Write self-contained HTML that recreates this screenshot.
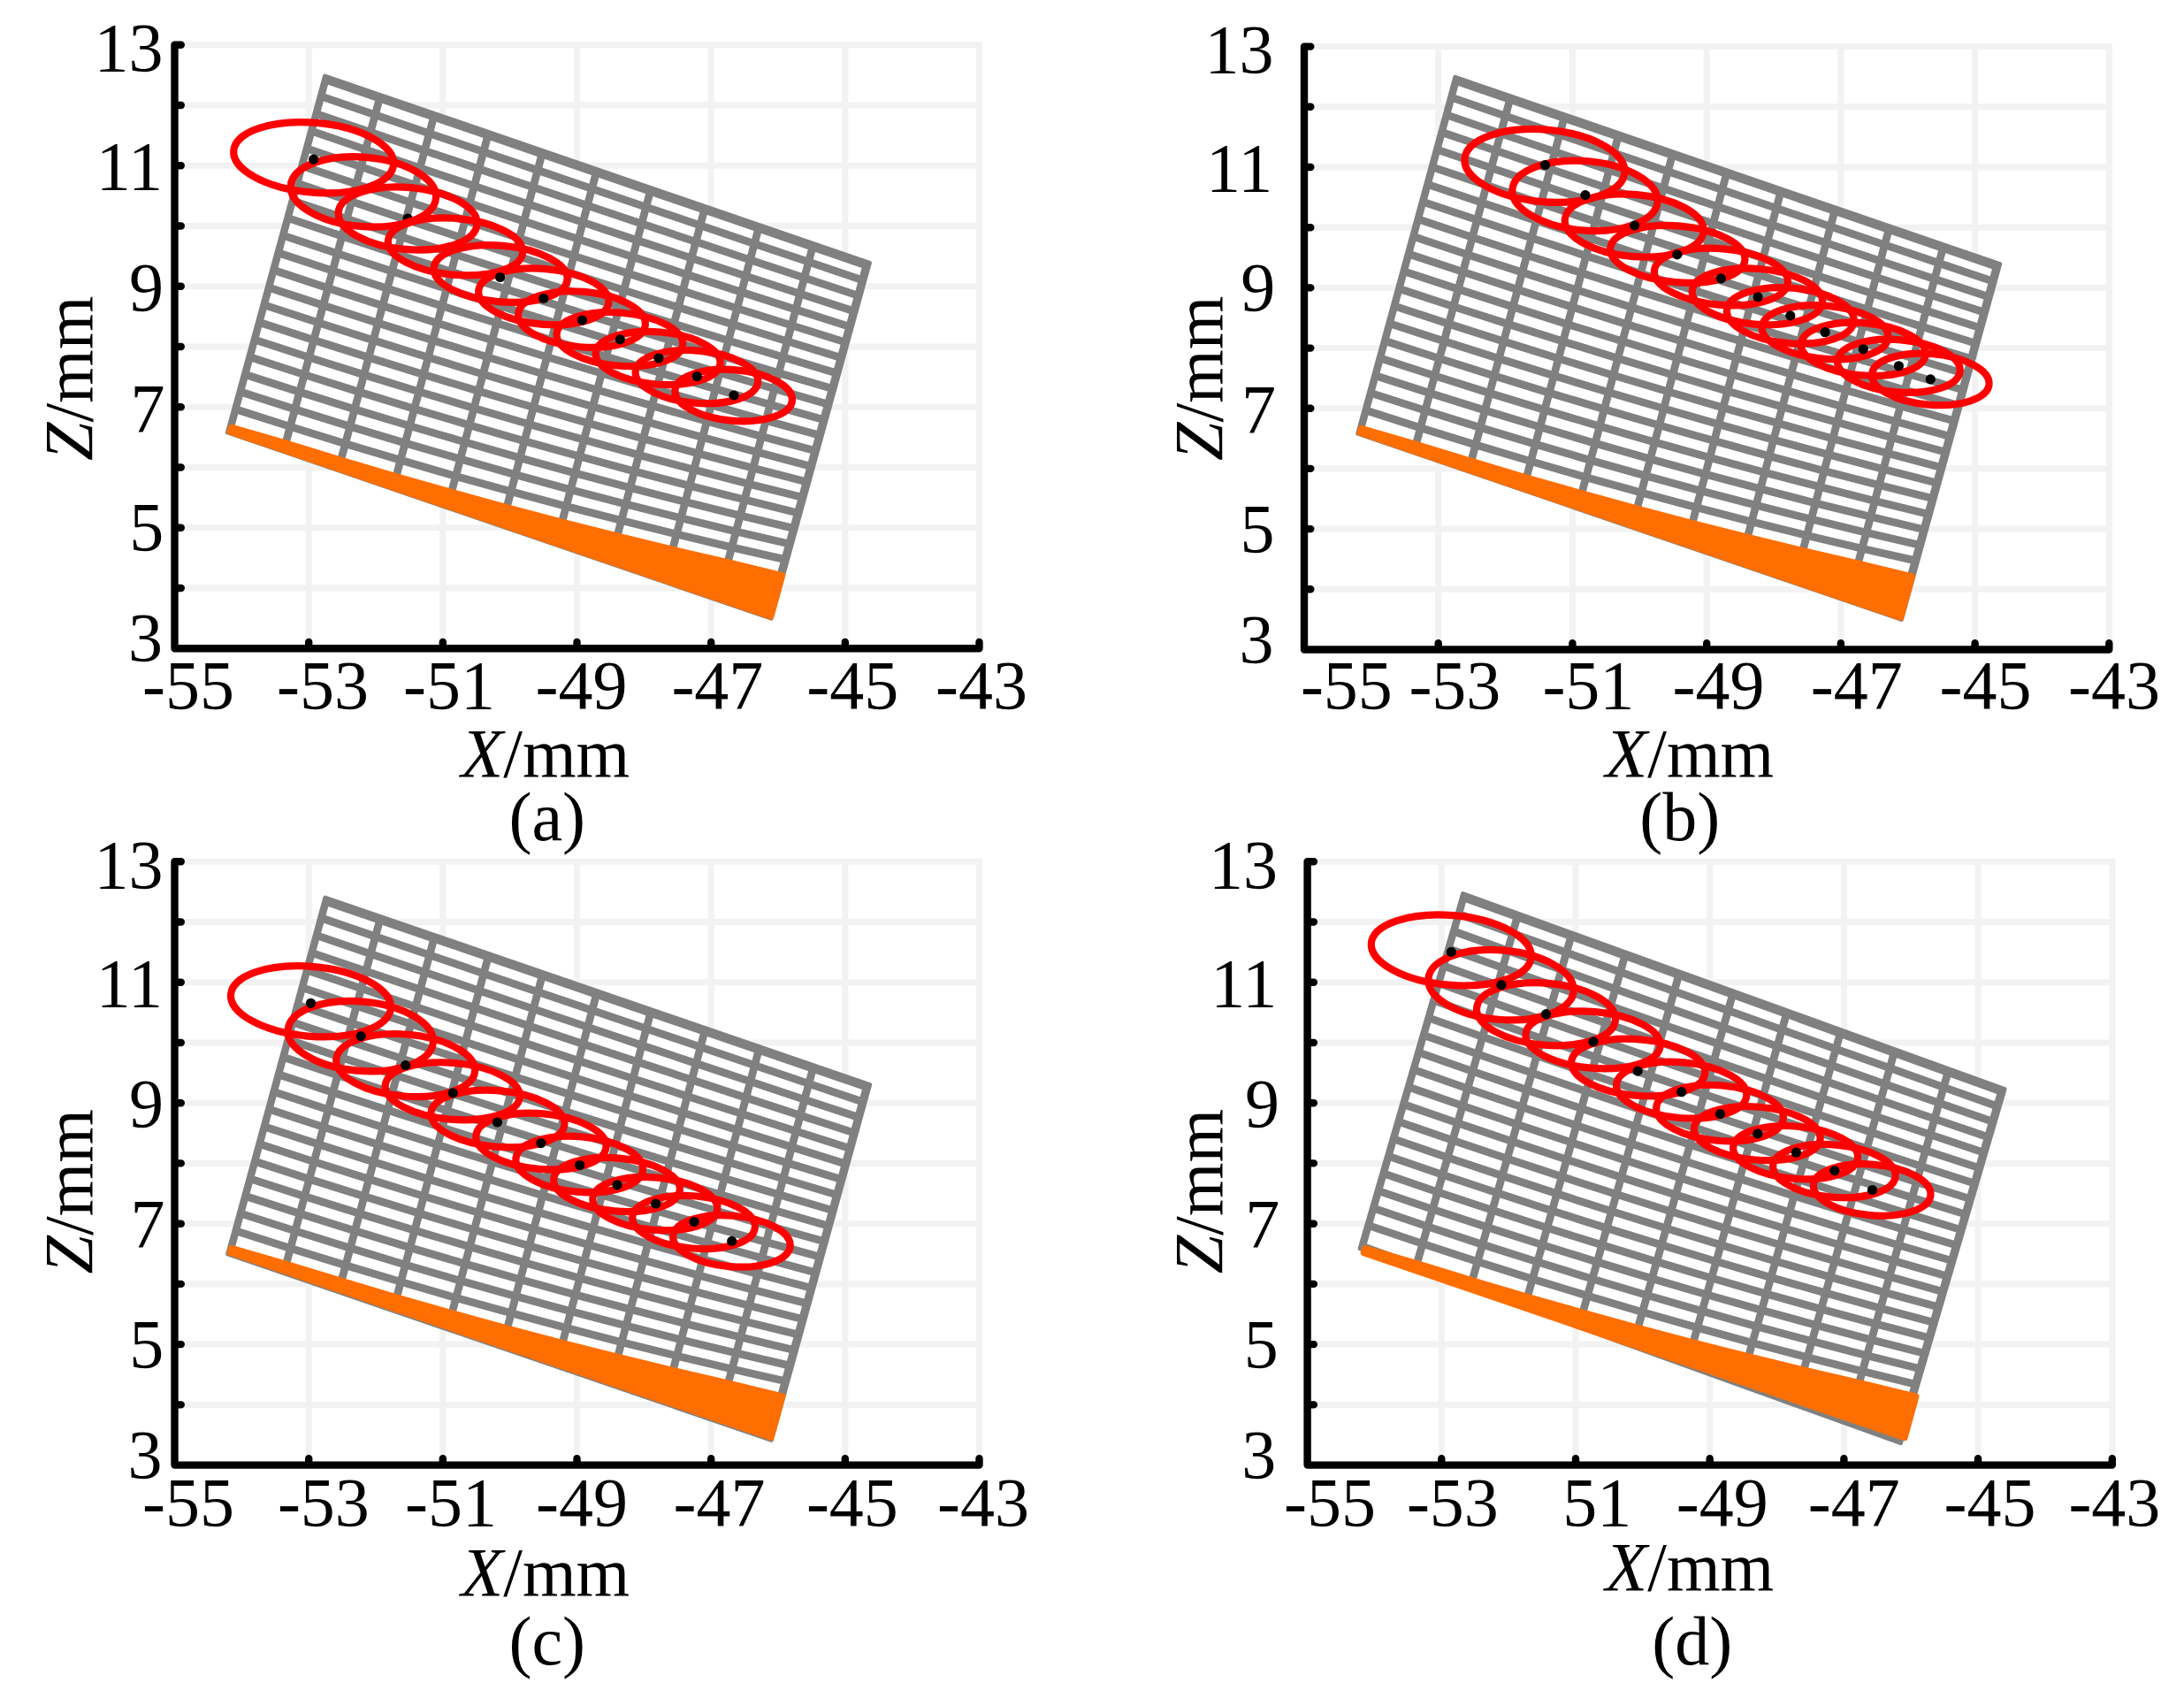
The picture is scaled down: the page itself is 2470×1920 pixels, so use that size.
<!DOCTYPE html>
<html lang="en">
<head>
<meta charset="utf-8">
<title>Figure</title>
<style>
circle{fill:#000;stroke:none;}
html,body{margin:0;padding:0;background:#fff;}
body{width:2470px;height:1920px;overflow:hidden;}
svg{display:block;}
text{font-family:"Liberation Serif","Times New Roman",serif;font-size:78px;fill:#000;}
</style>
</head>
<body>
<svg xmlns="http://www.w3.org/2000/svg" width="2470" height="1920" viewBox="0 0 2470 1920">
<rect width="2470" height="1920" fill="#fff"/>
<g>
<path d="M197.5 50.7H1111M197.5 119H1111M197.5 187.2H1111M197.5 255.5H1111M197.5 323.7H1111M197.5 392H1111M197.5 460.3H1111M197.5 528.5H1111M197.5 596.8H1111M197.5 665H1111M349.2 47.2V733.3M500.8 47.2V733.3M652.5 47.2V733.3M804.2 47.2V733.3M955.8 47.2V733.3M1107.5 47.2V733.3" stroke="#f2f2f2" stroke-width="7" fill="none"/>
<path d="M367.4 85.9L983.5 297.3L872.2 699.3L257.3 488.9Z" fill="#808080" stroke="#808080" stroke-width="4.8" stroke-linejoin="round"/>
<path d="M371 95.8L974.6 302.9L867.5 689.6L265.1 483.5Z" fill="#fff"/>
<path d="M363 108.9L424.3 129.9L485.5 150.8L546.8 171.7L608.1 192.5L669.4 213.3L730.6 234.1L791.9 254.8L853.2 275.6L914.5 296.2L975.7 316.9M357.6 128.6L418.9 149.5L480.3 170.3L541.6 191L602.9 211.7L664.3 232.3L725.6 252.9L787 273.4L848.3 293.8L909.6 314.2L971 334.4M352.2 148.2L413.6 169.1L475 189.8L536.4 210.4L597.8 230.9L659.2 251.4L720.6 271.7L782 291.9L843.4 312.1L904.8 332.1L966.2 352M346.8 167.9L408.2 188.6L469.7 209.3L531.2 229.8L592.7 250.2L654.1 270.4L715.6 290.5L777.1 310.5L838.5 330.3L900 350L961.5 369.6M341.4 187.5L402.9 208.2L464.4 228.8L526 249.2L587.5 269.4L649 289.4L710.6 309.3L772.1 329L833.6 348.6L895.2 367.9L956.7 387.1M336 207.1L397.6 227.8L459.2 248.3L520.8 268.5L582.4 288.6L644 308.4L705.6 328.1L767.1 347.5L828.7 366.8L890.3 385.9L951.9 404.7M330.6 226.8L392.2 247.4L453.9 267.8L515.5 287.9L577.2 307.8L638.9 327.5L700.5 346.9L762.2 366.1L823.9 385.1L885.5 403.8L947.2 422.3M325.2 246.4L386.9 267L448.6 287.3L510.3 307.3L572.1 327L633.8 346.5L695.5 365.7L757.2 384.6L819 403.3L880.7 421.7L942.4 439.8M319.8 266.1L381.5 286.6L443.3 306.7L505.1 326.6L566.9 346.2L628.7 365.5L690.5 384.5L752.3 403.2L814.1 421.6L875.9 439.6L937.7 457.4M314.4 285.7L376.2 306.1L438.1 326.2L499.9 346L561.8 365.4L623.6 384.5L685.5 403.3L747.3 421.7L809.2 439.8L871 457.6L932.9 475M308.9 305.3L370.9 325.7L432.8 345.7L494.7 365.4L556.6 384.6L618.5 403.6L680.5 422.1L742.4 440.3L804.3 458.1L866.2 475.5L928.1 492.5M303.5 325L365.5 345.3L427.5 365.2L489.5 384.7L551.5 403.9L613.5 422.6L675.4 440.9L737.4 458.8L799.4 476.3L861.4 493.4L923.4 510.1M298.1 344.6L360.2 364.9L422.2 384.7L484.3 404.1L546.3 423.1L608.4 441.6L670.4 459.7L732.5 477.3L794.5 494.6L856.6 511.3L918.6 527.7M292.7 364.3L354.8 384.5L417 404.2L479.1 423.5L541.2 442.3L603.3 460.6L665.4 478.5L727.5 495.9L789.6 512.8L851.7 529.3L913.9 545.2M287.3 383.9L349.5 404.1L411.7 423.7L473.9 442.9L536 461.5L598.2 479.6L660.4 497.3L722.6 514.4L784.7 531.1L846.9 547.2L909.1 562.8M281.9 403.5L344.2 423.6L406.4 443.2L468.6 462.2L530.9 480.7L593.1 498.7L655.4 516.1L717.6 533L779.9 549.3L842.1 565.1L904.3 580.4M276.5 423.2L338.8 443.2L401.1 462.7L463.4 481.6L525.7 499.9L588 517.7L650.4 534.9L712.7 551.5L775 567.6L837.3 583L899.6 597.9M271.1 442.8L333.5 462.8L395.9 482.2L458.2 501L520.6 519.1L583 536.7L645.3 553.7L707.7 570L770.1 585.8L832.4 601L894.8 615.5M265.7 462.5L328.1 482.4L390.6 501.7L453 520.3L515.4 538.4L577.9 555.7L640.3 572.5L702.8 588.6L765.2 604.1L827.6 618.9L890.1 633.1" stroke="#808080" stroke-width="8.8" fill="none"/>
<path d="M429.6 110.3L321.2 508M490.8 131.3L383.1 529.2M552 152.3L444.9 550.4M613.2 173.3L506.6 571.4M674.5 194.3L568.1 592.5M735.7 215.3L629.4 613.5M796.9 236.3L690.5 634.4M858.1 257.3L751.5 655.2M919.3 278.3L812.2 676" stroke="#808080" stroke-width="8.8" fill="none"/>
<path d="M261.6 483.2L323 500.8L385.5 520L448 538.6L510.6 556.4L573.1 573.6L635.6 590.2L698.2 606L760.7 621.2L823.2 635.7L884.7 650.6L871.8 697.2L259.9 488.1Z" fill="#ff6e00" stroke="#ff6e00" stroke-width="7" stroke-linejoin="round"/>
<g fill="none" stroke="#fe0000" stroke-width="8.2"><circle cx="461.1" cy="247" r="5.6"/><ellipse cx="354.7" cy="178.2" rx="90.8" ry="39.4" transform="rotate(5 354.7 178.2)"/><ellipse cx="410.9" cy="216.9" rx="82.4" ry="39.2" transform="rotate(5 410.9 216.9)"/><ellipse cx="461.1" cy="247" rx="78.7" ry="35" transform="rotate(5 461.1 247)"/><ellipse cx="515" cy="278.9" rx="76.4" ry="31.9" transform="rotate(5 515 278.9)"/><ellipse cx="566.1" cy="309.5" rx="75.8" ry="31.8" transform="rotate(5 566.1 309.5)"/><ellipse cx="614.8" cy="335.4" rx="73.9" ry="31.4" transform="rotate(5 614.8 335.4)"/><ellipse cx="658" cy="361.1" rx="72.1" ry="31.3" transform="rotate(5 658 361.1)"/><ellipse cx="700.9" cy="383.6" rx="71.6" ry="30" transform="rotate(5 700.9 383.6)"/><ellipse cx="744.1" cy="405" rx="70.7" ry="29.6" transform="rotate(5 744.1 405)"/><ellipse cx="787.9" cy="426.1" rx="69.5" ry="29.6" transform="rotate(5 787.9 426.1)"/><ellipse cx="829.7" cy="447" rx="66.5" ry="28.8" transform="rotate(5 829.7 447)"/><circle cx="354.7" cy="180.2" r="5.6"/><circle cx="565.6" cy="313.5" r="5.6"/><circle cx="614.8" cy="337.4" r="5.6"/><circle cx="658.5" cy="362.1" r="5.6"/><circle cx="701.4" cy="383.9" r="5.6"/><circle cx="744.9" cy="405" r="5.6"/><circle cx="788.3" cy="425.6" r="5.6"/><circle cx="830" cy="447" r="5.6"/></g>
<path d="M197.5 50.7V733.3H1107.5M197.5 50.7h7.3M197.5 119h7.3M197.5 187.2h7.3M197.5 255.5h7.3M197.5 323.7h7.3M197.5 392h7.3M197.5 460.3h7.3M197.5 528.5h7.3M197.5 596.8h7.3M197.5 665h7.3M349.2 733.3v-7.3M500.8 733.3v-7.3M652.5 733.3v-7.3M804.2 733.3v-7.3M955.8 733.3v-7.3M1107.5 733.3v-7.3" stroke="#000" stroke-width="8.4" fill="none" stroke-linecap="round" stroke-linejoin="round"/>
<g><text x="106.6" y="80.4">13</text><text x="108.8" y="214.4">11</text><text x="146" y="350.9">9</text><text x="147.4" y="487.5">7</text><text x="146.2" y="621.9">5</text><text x="145" y="746.8">3</text><text x="161" y="801">-55</text><text x="313.1" y="801">-53</text><text x="456.1" y="801">-51</text><text x="605.5" y="801">-49</text><text x="759.4" y="801">-47</text><text x="912.3" y="801">-45</text><text x="1058" y="801">-43</text><text transform="translate(103.7 427.8) rotate(-90)" text-anchor="middle"><tspan font-style="italic">Z</tspan>/mm</text><text x="616.9" y="878.3" text-anchor="middle"><tspan font-style="italic">X</tspan>/mm</text><text x="618.7" y="949.7" text-anchor="middle">(a)</text></g>
</g>
<g>
<path d="M1475 52.6H2388.8M1475 120.8H2388.8M1475 189H2388.8M1475 257.2H2388.8M1475 325.4H2388.8M1475 393.6H2388.8M1475 461.7H2388.8M1475 529.9H2388.8M1475 598.1H2388.8M1475 666.3H2388.8M1626.7 49.1V734.5M1778.4 49.1V734.5M1930.2 49.1V734.5M2081.9 49.1V734.5M2233.6 49.1V734.5M2385.3 49.1V734.5" stroke="#f2f2f2" stroke-width="7" fill="none"/>
<path d="M1645.7 87.2L2261.8 298.6L2150.5 700.6L1535.6 490.2Z" fill="#808080" stroke="#808080" stroke-width="4.8" stroke-linejoin="round"/>
<path d="M1649.3 97.1L2252.9 304.2L2145.8 690.9L1543.4 484.8Z" fill="#fff"/>
<path d="M1641.3 110.2L1702.6 131.2L1763.8 152.1L1825.1 173L1886.4 193.8L1947.7 214.6L2008.9 235.4L2070.2 256.1L2131.5 276.9L2192.8 297.5L2254 318.2M1635.9 129.9L1697.2 150.8L1758.6 171.6L1819.9 192.3L1881.2 213L1942.6 233.6L2003.9 254.2L2065.3 274.7L2126.6 295.1L2187.9 315.5L2249.3 335.7M1630.5 149.5L1691.9 170.4L1753.3 191.1L1814.7 211.7L1876.1 232.2L1937.5 252.7L1998.9 273L2060.3 293.2L2121.7 313.4L2183.1 333.4L2244.5 353.3M1625.1 169.2L1686.5 189.9L1748 210.6L1809.5 231.1L1871 251.5L1932.4 271.7L1993.9 291.8L2055.4 311.8L2116.8 331.6L2178.3 351.3L2239.8 370.9M1619.7 188.8L1681.2 209.5L1742.7 230.1L1804.3 250.5L1865.8 270.7L1927.3 290.7L1988.9 310.6L2050.4 330.3L2111.9 349.9L2173.5 369.2L2235 388.4M1614.3 208.4L1675.9 229.1L1737.5 249.6L1799.1 269.8L1860.7 289.9L1922.3 309.7L1983.9 329.4L2045.4 348.8L2107 368.1L2168.6 387.2L2230.2 406M1608.9 228.1L1670.5 248.7L1732.2 269.1L1793.8 289.2L1855.5 309.1L1917.2 328.8L1978.8 348.2L2040.5 367.4L2102.2 386.4L2163.8 405.1L2225.5 423.6M1603.5 247.7L1665.2 268.3L1726.9 288.6L1788.6 308.6L1850.4 328.3L1912.1 347.8L1973.8 367L2035.5 385.9L2097.3 404.6L2159 423L2220.7 441.1M1598.1 267.4L1659.8 287.9L1721.6 308L1783.4 327.9L1845.2 347.5L1907 366.8L1968.8 385.8L2030.6 404.5L2092.4 422.9L2154.2 440.9L2216 458.7M1592.6 287L1654.5 307.4L1716.4 327.5L1778.2 347.3L1840.1 366.7L1901.9 385.8L1963.8 404.6L2025.6 423L2087.5 441.1L2149.3 458.9L2211.2 476.3M1587.2 306.6L1649.2 327L1711.1 347L1773 366.7L1834.9 385.9L1896.8 404.9L1958.8 423.4L2020.7 441.6L2082.6 459.4L2144.5 476.8L2206.4 493.8M1581.8 326.3L1643.8 346.6L1705.8 366.5L1767.8 386L1829.8 405.2L1891.8 423.9L1953.7 442.2L2015.7 460.1L2077.7 477.6L2139.7 494.7L2201.7 511.4M1576.4 345.9L1638.5 366.2L1700.5 386L1762.6 405.4L1824.6 424.4L1886.7 442.9L1948.7 461L2010.8 478.6L2072.8 495.9L2134.9 512.6L2196.9 529M1571 365.6L1633.1 385.8L1695.3 405.5L1757.4 424.8L1819.5 443.6L1881.6 461.9L1943.7 479.8L2005.8 497.2L2067.9 514.1L2130 530.6L2192.2 546.5M1565.6 385.2L1627.8 405.4L1690 425L1752.2 444.2L1814.3 462.8L1876.5 480.9L1938.7 498.6L2000.9 515.7L2063 532.4L2125.2 548.5L2187.4 564.1M1560.2 404.8L1622.5 424.9L1684.7 444.5L1746.9 463.5L1809.2 482L1871.4 500L1933.7 517.4L1995.9 534.3L2058.2 550.6L2120.4 566.4L2182.6 581.7M1554.8 424.5L1617.1 444.5L1679.4 464L1741.7 482.9L1804 501.2L1866.3 519L1928.7 536.2L1991 552.8L2053.3 568.9L2115.6 584.3L2177.9 599.2M1549.4 444.1L1611.8 464.1L1674.2 483.5L1736.5 502.3L1798.9 520.4L1861.3 538L1923.6 555L1986 571.3L2048.4 587.1L2110.7 602.3L2173.1 616.8M1544 463.8L1606.4 483.7L1668.9 503L1731.3 521.6L1793.7 539.7L1856.2 557L1918.6 573.8L1981.1 589.9L2043.5 605.4L2105.9 620.2L2168.4 634.4" stroke="#808080" stroke-width="8.8" fill="none"/>
<path d="M1707.9 111.6L1599.5 509.3M1769.1 132.6L1661.4 530.5M1830.3 153.6L1723.2 551.7M1891.5 174.6L1784.9 572.7M1952.8 195.6L1846.4 593.8M2014 216.6L1907.7 614.8M2075.2 237.6L1968.8 635.7M2136.4 258.6L2029.8 656.5M2197.6 279.6L2090.5 677.3" stroke="#808080" stroke-width="8.8" fill="none"/>
<path d="M1539.5 484.4L1600.9 502L1663.4 521.2L1725.9 539.8L1788.5 557.6L1851 574.8L1913.5 591.4L1976.1 607.2L2038.6 622.4L2101.1 636.9L2162.6 651.8L2149.7 698.4L1537.8 489.3Z" fill="#ff6e00" stroke="#ff6e00" stroke-width="7" stroke-linejoin="round"/>
<g fill="none" stroke="#fe0000" stroke-width="8.2"><ellipse cx="1746.9" cy="187.4" rx="90.8" ry="40.8" transform="rotate(5 1746.9 187.4)"/><ellipse cx="1792.5" cy="221.3" rx="82.4" ry="39.2" transform="rotate(5 1792.5 221.3)"/><ellipse cx="1848.2" cy="255" rx="78.7" ry="35" transform="rotate(5 1848.2 255)"/><ellipse cx="1897.3" cy="287.4" rx="76.4" ry="31.9" transform="rotate(5 1897.3 287.4)"/><ellipse cx="1946.4" cy="313" rx="75.8" ry="31.8" transform="rotate(5 1946.4 313)"/><ellipse cx="1987.4" cy="335.3" rx="73.9" ry="31.4" transform="rotate(5 1987.4 335.3)"/><ellipse cx="2024.8" cy="356.9" rx="72.1" ry="31.3" transform="rotate(5 2024.8 356.9)"/><ellipse cx="2064.1" cy="375.7" rx="71.6" ry="30" transform="rotate(5 2064.1 375.7)"/><ellipse cx="2107.3" cy="394.8" rx="70.7" ry="29.6" transform="rotate(5 2107.3 394.8)"/><ellipse cx="2147.4" cy="413.8" rx="69.5" ry="29.6" transform="rotate(5 2147.4 413.8)"/><ellipse cx="2183.3" cy="428.9" rx="66.5" ry="28.8" transform="rotate(5 2183.3 428.9)"/><circle cx="1747.5" cy="186.5" r="5.6"/><circle cx="1792.9" cy="220.6" r="5.6"/><circle cx="1848.6" cy="254.9" r="5.6"/><circle cx="1896.8" cy="287.9" r="5.6"/><circle cx="1946.5" cy="314.9" r="5.6"/><circle cx="1988.1" cy="335.9" r="5.6"/><circle cx="2024.8" cy="356.9" r="5.6"/><circle cx="2064.1" cy="375.7" r="5.6"/><circle cx="2107.3" cy="394.8" r="5.6"/><circle cx="2147.4" cy="413.8" r="5.6"/><circle cx="2183.3" cy="428.9" r="5.6"/></g>
<path d="M1475 52.6V734.5H2385.3M1475 52.6h7.3M1475 120.8h7.3M1475 189h7.3M1475 257.2h7.3M1475 325.4h7.3M1475 393.6h7.3M1475 461.7h7.3M1475 529.9h7.3M1475 598.1h7.3M1475 666.3h7.3M1626.7 734.5v-7.3M1778.4 734.5v-7.3M1930.2 734.5v-7.3M2081.9 734.5v-7.3M2233.6 734.5v-7.3M2385.3 734.5v-7.3" stroke="#000" stroke-width="8.4" fill="none" stroke-linecap="round" stroke-linejoin="round"/>
<g><text x="1362.4" y="82.4">13</text><text x="1364.1" y="216.4">11</text><text x="1403.2" y="350.9">9</text><text x="1403.9" y="488.9">7</text><text x="1402.6" y="624.1">5</text><text x="1401.4" y="748.9">3</text><text x="1470.9" y="801.4">-55</text><text x="1593.4" y="801.4">-53</text><text x="1744.4" y="801.4">-51</text><text x="1891.5" y="801.4">-49</text><text x="2047.8" y="801.4">-47</text><text x="2193.5" y="801.4">-45</text><text x="2339.1" y="801.4">-43</text><text transform="translate(1382 427.8) rotate(-90)" text-anchor="middle"><tspan font-style="italic">Z</tspan>/mm</text><text x="1910.9" y="878" text-anchor="middle"><tspan font-style="italic">X</tspan>/mm</text><text x="1899.8" y="949.7" text-anchor="middle">(b)</text></g>
</g>
<g>
<path d="M197.5 974.3H1111M197.5 1042.5H1111M197.5 1110.8H1111M197.5 1179H1111M197.5 1247.2H1111M197.5 1315.4H1111M197.5 1383.7H1111M197.5 1451.9H1111M197.5 1520.1H1111M197.5 1588.4H1111M349.2 970.8V1656.6M500.8 970.8V1656.6M652.5 970.8V1656.6M804.2 970.8V1656.6M955.8 970.8V1656.6M1107.5 970.8V1656.6" stroke="#f2f2f2" stroke-width="7" fill="none"/>
<path d="M367.7 1015L983.8 1226.4L872.5 1628.4L257.6 1418Z" fill="#808080" stroke="#808080" stroke-width="4.8" stroke-linejoin="round"/>
<path d="M371.3 1024.9L974.9 1232L867.8 1618.7L265.4 1412.6Z" fill="#fff"/>
<path d="M363.3 1038L424.6 1059L485.8 1079.9L547.1 1100.8L608.4 1121.6L669.7 1142.4L730.9 1163.2L792.2 1183.9L853.5 1204.7L914.8 1225.3L976 1246M357.9 1057.7L419.2 1078.6L480.6 1099.4L541.9 1120.1L603.2 1140.8L664.6 1161.4L725.9 1182L787.3 1202.5L848.6 1222.9L909.9 1243.3L971.3 1263.5M352.5 1077.3L413.9 1098.2L475.3 1118.9L536.7 1139.5L598.1 1160L659.5 1180.5L720.9 1200.8L782.3 1221L843.7 1241.2L905.1 1261.2L966.5 1281.1M347.1 1097L408.5 1117.7L470 1138.4L531.5 1158.9L593 1179.3L654.4 1199.5L715.9 1219.6L777.4 1239.6L838.8 1259.4L900.3 1279.1L961.8 1298.7M341.7 1116.6L403.2 1137.3L464.7 1157.9L526.3 1178.3L587.8 1198.5L649.3 1218.5L710.9 1238.4L772.4 1258.1L833.9 1277.7L895.5 1297L957 1316.2M336.3 1136.2L397.9 1156.9L459.5 1177.4L521.1 1197.6L582.7 1217.7L644.3 1237.5L705.9 1257.2L767.4 1276.6L829 1295.9L890.6 1315L952.2 1333.8M330.9 1155.9L392.5 1176.5L454.2 1196.9L515.8 1217L577.5 1236.9L639.2 1256.6L700.8 1276L762.5 1295.2L824.2 1314.2L885.8 1332.9L947.5 1351.4M325.5 1175.5L387.2 1196.1L448.9 1216.4L510.6 1236.4L572.4 1256.1L634.1 1275.6L695.8 1294.8L757.5 1313.7L819.3 1332.4L881 1350.8L942.7 1368.9M320.1 1195.2L381.8 1215.7L443.6 1235.8L505.4 1255.7L567.2 1275.3L629 1294.6L690.8 1313.6L752.6 1332.3L814.4 1350.7L876.2 1368.7L938 1386.5M314.6 1214.8L376.5 1235.2L438.4 1255.3L500.2 1275.1L562.1 1294.5L623.9 1313.6L685.8 1332.4L747.6 1350.8L809.5 1368.9L871.3 1386.7L933.2 1404.1M309.2 1234.4L371.2 1254.8L433.1 1274.8L495 1294.5L556.9 1313.7L618.8 1332.7L680.8 1351.2L742.7 1369.4L804.6 1387.2L866.5 1404.6L928.4 1421.6M303.8 1254.1L365.8 1274.4L427.8 1294.3L489.8 1313.8L551.8 1333L613.8 1351.7L675.7 1370L737.7 1387.9L799.7 1405.4L861.7 1422.5L923.7 1439.2M298.4 1273.7L360.5 1294L422.5 1313.8L484.6 1333.2L546.6 1352.2L608.7 1370.7L670.7 1388.8L732.8 1406.4L794.8 1423.7L856.9 1440.4L918.9 1456.8M293 1293.4L355.1 1313.6L417.3 1333.3L479.4 1352.6L541.5 1371.4L603.6 1389.7L665.7 1407.6L727.8 1425L789.9 1441.9L852 1458.4L914.2 1474.3M287.6 1313L349.8 1333.2L412 1352.8L474.2 1372L536.3 1390.6L598.5 1408.7L660.7 1426.4L722.9 1443.5L785 1460.2L847.2 1476.3L909.4 1491.9M282.2 1332.6L344.5 1352.7L406.7 1372.3L468.9 1391.3L531.2 1409.8L593.4 1427.8L655.7 1445.2L717.9 1462.1L780.2 1478.4L842.4 1494.2L904.6 1509.5M276.8 1352.3L339.1 1372.3L401.4 1391.8L463.7 1410.7L526 1429L588.3 1446.8L650.7 1464L713 1480.6L775.3 1496.7L837.6 1512.1L899.9 1527M271.4 1371.9L333.8 1391.9L396.2 1411.3L458.5 1430.1L520.9 1448.2L583.3 1465.8L645.6 1482.8L708 1499.1L770.4 1514.9L832.7 1530.1L895.1 1544.6M266 1391.6L328.4 1411.5L390.9 1430.8L453.3 1449.4L515.7 1467.5L578.2 1484.8L640.6 1501.6L703.1 1517.7L765.5 1533.2L827.9 1548L890.4 1562.2" stroke="#808080" stroke-width="8.8" fill="none"/>
<path d="M429.9 1039.4L321.5 1437.1M491.1 1060.4L383.4 1458.3M552.3 1081.4L445.2 1479.5M613.5 1102.4L506.9 1500.5M674.8 1123.4L568.4 1521.6M736 1144.4L629.7 1542.6M797.2 1165.4L690.8 1563.5M858.4 1186.4L751.8 1584.3M919.6 1207.4L812.5 1605.1" stroke="#808080" stroke-width="8.8" fill="none"/>
<path d="M261.9 1411.4L323.3 1429L385.8 1448.2L448.3 1466.8L510.9 1484.6L573.4 1501.8L635.9 1518.4L698.5 1534.2L761 1549.4L823.5 1563.9L885 1578.8L872.1 1625.4L260.2 1416.3Z" fill="#ff6e00" stroke="#ff6e00" stroke-width="7" stroke-linejoin="round"/>
<g fill="none" stroke="#fe0000" stroke-width="8.2"><ellipse cx="351.5" cy="1132.3" rx="90.8" ry="39.4" transform="rotate(5 351.5 1132.3)"/><ellipse cx="407.7" cy="1171.6" rx="82.4" ry="39.2" transform="rotate(5 407.7 1171.6)"/><ellipse cx="458.7" cy="1204.6" rx="78.7" ry="35" transform="rotate(5 458.7 1204.6)"/><ellipse cx="511.8" cy="1233.8" rx="76.4" ry="31.9" transform="rotate(5 511.8 1233.8)"/><ellipse cx="562.9" cy="1265" rx="75.8" ry="31.8" transform="rotate(5 562.9 1265)"/><ellipse cx="611.9" cy="1290.6" rx="73.9" ry="31.4" transform="rotate(5 611.9 1290.6)"/><ellipse cx="655.2" cy="1316.5" rx="72.1" ry="31.3" transform="rotate(5 655.2 1316.5)"/><ellipse cx="697.5" cy="1339.5" rx="71.6" ry="30" transform="rotate(5 697.5 1339.5)"/><ellipse cx="740.8" cy="1361.1" rx="70.7" ry="29.6" transform="rotate(5 740.8 1361.1)"/><ellipse cx="784.6" cy="1382" rx="69.5" ry="29.6" transform="rotate(5 784.6 1382)"/><ellipse cx="827.4" cy="1403.4" rx="66.5" ry="28.8" transform="rotate(5 827.4 1403.4)"/><circle cx="351.5" cy="1134.3" r="5.6"/><circle cx="408.2" cy="1171.6" r="5.6"/><circle cx="458.7" cy="1204.6" r="5.6"/><circle cx="512.2" cy="1235.8" r="5.6"/><circle cx="562.4" cy="1269" r="5.6"/><circle cx="611.9" cy="1292.6" r="5.6"/><circle cx="655.7" cy="1317.5" r="5.6"/><circle cx="698" cy="1339.8" r="5.6"/><circle cx="741.6" cy="1361.1" r="5.6"/><circle cx="785" cy="1381.5" r="5.6"/><circle cx="827.7" cy="1403.4" r="5.6"/></g>
<path d="M197.5 974.3V1656.6H1107.5M197.5 974.3h7.3M197.5 1042.5h7.3M197.5 1110.8h7.3M197.5 1179h7.3M197.5 1247.2h7.3M197.5 1315.4h7.3M197.5 1383.7h7.3M197.5 1451.9h7.3M197.5 1520.1h7.3M197.5 1588.4h7.3M349.2 1656.6v-7.3M500.8 1656.6v-7.3M652.5 1656.6v-7.3M804.2 1656.6v-7.3M955.8 1656.6v-7.3M1107.5 1656.6v-7.3" stroke="#000" stroke-width="8.4" fill="none" stroke-linecap="round" stroke-linejoin="round"/>
<g><text x="106.4" y="1003.9">13</text><text x="108.8" y="1137.8">11</text><text x="146" y="1273.5">9</text><text x="147.4" y="1410">7</text><text x="146.2" y="1545.6">5</text><text x="144.6" y="1670.5">3</text><text x="161" y="1724.6">-55</text><text x="313.9" y="1724.6">-53</text><text x="458.1" y="1724.6">-51</text><text x="606.1" y="1724.6">-49</text><text x="761.5" y="1724.6">-47</text><text x="911.9" y="1724.6">-45</text><text x="1060" y="1724.6">-43</text><text transform="translate(103.7 1347.3) rotate(-90)" text-anchor="middle"><tspan font-style="italic">Z</tspan>/mm</text><text x="616.9" y="1803.8" text-anchor="middle"><tspan font-style="italic">X</tspan>/mm</text><text x="618.7" y="1882.1" text-anchor="middle">(c)</text></g>
</g>
<g>
<path d="M1478.6 974.3H2392.3M1478.6 1042.5H2392.3M1478.6 1110.8H2392.3M1478.6 1179H2392.3M1478.6 1247.2H2392.3M1478.6 1315.4H2392.3M1478.6 1383.7H2392.3M1478.6 1451.9H2392.3M1478.6 1520.1H2392.3M1478.6 1588.4H2392.3M1630.3 970.8V1656.6M1782 970.8V1656.6M1933.7 970.8V1656.6M2085.4 970.8V1656.6M2237.1 970.8V1656.6M2388.8 970.8V1656.6" stroke="#f2f2f2" stroke-width="7" fill="none"/>
<path d="M1654.5 1010.5L2267.2 1231.5L2149.6 1631.7L1538 1411.7Z" fill="#808080" stroke="#808080" stroke-width="4.8" stroke-linejoin="round"/>
<path d="M1657.9 1020.4L2258.2 1237L2145 1622L1545.9 1406.5Z" fill="#fff"/>
<path d="M1649.7 1033.5L1710.6 1055.4L1771.6 1077.2L1832.5 1099.1L1893.4 1120.9L1954.4 1142.6L2015.3 1164.4L2076.3 1186.1L2137.2 1207.7L2198.1 1229.4L2259.1 1251M1644 1053L1705 1074.9L1766 1096.6L1827 1118.3L1888 1140L1949 1161.6L2010 1183.1L2071 1204.5L2132 1225.9L2193 1247.2L2254.1 1268.5M1638.3 1072.6L1699.3 1094.4L1760.4 1116L1821.5 1137.6L1882.5 1159.1L1943.6 1180.5L2004.7 1201.8L2065.8 1223L2126.9 1244.1L2187.9 1265.1L2249 1286M1632.5 1092.1L1693.7 1113.8L1754.8 1135.5L1816 1156.9L1877.1 1178.3L1938.2 1199.5L1999.4 1220.5L2060.5 1241.5L2121.7 1262.3L2182.8 1282.9L2244 1303.4M1626.8 1111.7L1688 1133.3L1749.2 1154.9L1810.4 1176.2L1871.6 1197.4L1932.9 1218.4L1994.1 1239.2L2055.3 1259.9L2116.5 1280.4L2177.7 1300.8L2238.9 1320.9M1621.1 1131.2L1682.4 1152.8L1743.7 1174.3L1804.9 1195.5L1866.2 1216.5L1927.5 1237.3L1988.8 1258L2050 1278.4L2111.3 1298.6L2172.6 1318.6L2233.9 1338.4M1615.4 1150.8L1676.7 1172.3L1738.1 1193.7L1799.4 1214.8L1860.8 1235.6L1922.1 1256.3L1983.4 1276.7L2044.8 1296.8L2106.2 1316.8L2167.5 1336.5L2228.9 1355.9M1609.7 1170.3L1671.1 1191.8L1732.5 1213.1L1793.9 1234.1L1855.3 1254.8L1916.7 1275.2L1978.1 1295.4L2039.6 1315.3L2101 1334.9L2162.4 1354.3L2223.8 1373.4M1604 1189.9L1665.4 1211.3L1726.9 1232.5L1788.4 1253.4L1849.9 1273.9L1911.3 1294.2L1972.8 1314.1L2034.3 1333.8L2095.8 1353.1L2157.3 1372.2L2218.8 1390.9M1598.3 1209.4L1659.8 1230.8L1721.3 1251.9L1782.9 1272.6L1844.4 1293L1906 1313.1L1967.5 1332.8L2029.1 1352.2L2090.6 1371.3L2152.2 1390L2213.8 1408.4M1592.6 1229L1654.2 1250.3L1715.7 1271.3L1777.4 1291.9L1839 1312.2L1900.6 1332L1962.2 1351.5L2023.8 1370.7L2085.5 1389.5L2147.1 1407.9L2208.7 1425.9M1586.8 1248.5L1648.5 1269.8L1710.2 1290.7L1771.8 1311.2L1833.5 1331.3L1895.2 1351L1956.9 1370.3L2018.6 1389.1L2080.3 1407.6L2142 1425.7L2203.7 1443.4M1581.1 1268.1L1642.9 1289.3L1704.6 1310.1L1766.3 1330.5L1828.1 1350.4L1889.8 1369.9L1951.6 1389L2013.3 1407.6L2075.1 1425.8L2136.9 1443.5L2198.7 1460.9M1575.4 1287.6L1637.2 1308.8L1699 1329.5L1760.8 1349.8L1822.6 1369.6L1884.4 1388.9L1946.3 1407.7L2008.1 1426.1L2069.9 1444L2131.8 1461.4L2193.6 1478.3M1569.7 1307.2L1631.6 1328.3L1693.4 1348.9L1755.3 1369.1L1817.2 1388.7L1879.1 1407.8L1940.9 1426.4L2002.8 1444.5L2064.8 1462.1L2126.7 1479.2L2188.6 1495.8M1564 1326.7L1625.9 1347.8L1687.8 1368.4L1749.8 1388.4L1811.7 1407.8L1873.7 1426.7L1935.6 1445.1L1997.6 1463L2059.6 1480.3L2121.6 1497.1L2183.6 1513.3M1558.3 1346.3L1620.3 1367.3L1682.3 1387.8L1744.3 1407.6L1806.3 1427L1868.3 1445.7L1930.3 1463.9L1992.4 1481.5L2054.4 1498.5L2116.5 1514.9L2178.5 1530.8M1552.6 1365.8L1614.6 1386.8L1676.7 1407.2L1738.7 1426.9L1800.8 1446.1L1862.9 1464.6L1925 1482.6L1987.1 1499.9L2049.2 1516.6L2111.4 1532.8L2173.5 1548.3M1546.9 1385.4L1609 1406.3L1671.1 1426.6L1733.2 1446.2L1795.4 1465.2L1857.5 1483.6L1919.7 1501.3L1981.9 1518.4L2044.1 1534.8L2106.2 1550.6L2168.5 1565.8" stroke="#808080" stroke-width="8.8" fill="none"/>
<path d="M1716.3 1035.9L1601.6 1431.8M1777.1 1057.8L1663.2 1454M1838 1079.8L1724.7 1476.1M1898.9 1101.7L1786 1498.2M1959.8 1123.7L1847.1 1520.2M2020.6 1145.7L1908.1 1542.1M2081.5 1167.6L1968.9 1564M2142.4 1189.6L2029.5 1585.8M2203.3 1211.5L2090 1607.5" stroke="#808080" stroke-width="8.8" fill="none"/>
<path d="M1543.9 1411.7L1605.3 1429.3L1667.8 1448.5L1730.3 1467.1L1792.9 1484.9L1855.4 1502.1L1917.9 1518.7L1980.5 1534.5L2043 1549.7L2105.5 1564.2L2167 1579.1L2154.1 1625.7L1542.2 1416.6Z" fill="#ff6e00" stroke="#ff6e00" stroke-width="7" stroke-linejoin="round"/>
<g fill="none" stroke="#fe0000" stroke-width="8.2"><ellipse cx="1641.3" cy="1074.4" rx="90.8" ry="39.4" transform="rotate(5 1641.3 1074.4)"/><ellipse cx="1697.5" cy="1113.7" rx="82.4" ry="39.2" transform="rotate(5 1697.5 1113.7)"/><ellipse cx="1748.5" cy="1146.7" rx="78.7" ry="35" transform="rotate(5 1748.5 1146.7)"/><ellipse cx="1801.6" cy="1175.9" rx="76.4" ry="31.9" transform="rotate(5 1801.6 1175.9)"/><ellipse cx="1852.7" cy="1207.1" rx="75.8" ry="31.8" transform="rotate(5 1852.7 1207.1)"/><ellipse cx="1901.7" cy="1232.7" rx="73.9" ry="31.4" transform="rotate(5 1901.7 1232.7)"/><ellipse cx="1945" cy="1258.6" rx="72.1" ry="31.3" transform="rotate(5 1945 1258.6)"/><ellipse cx="1987.3" cy="1281.6" rx="71.6" ry="30" transform="rotate(5 1987.3 1281.6)"/><ellipse cx="2030.6" cy="1303.2" rx="70.7" ry="29.6" transform="rotate(5 2030.6 1303.2)"/><ellipse cx="2074.4" cy="1324.1" rx="69.5" ry="29.6" transform="rotate(5 2074.4 1324.1)"/><ellipse cx="2117.2" cy="1345.5" rx="66.5" ry="28.8" transform="rotate(5 2117.2 1345.5)"/><circle cx="1641.3" cy="1076.4" r="5.6"/><circle cx="1698" cy="1113.7" r="5.6"/><circle cx="1748.5" cy="1146.7" r="5.6"/><circle cx="1802" cy="1177.9" r="5.6"/><circle cx="1852.2" cy="1211.1" r="5.6"/><circle cx="1901.7" cy="1234.7" r="5.6"/><circle cx="1945.5" cy="1259.6" r="5.6"/><circle cx="1987.8" cy="1281.9" r="5.6"/><circle cx="2031.4" cy="1303.2" r="5.6"/><circle cx="2074.8" cy="1323.6" r="5.6"/><circle cx="2117.5" cy="1345.5" r="5.6"/></g>
<path d="M1478.6 974.3V1656.6H2388.8M1478.6 974.3h7.3M1478.6 1042.5h7.3M1478.6 1110.8h7.3M1478.6 1179h7.3M1478.6 1247.2h7.3M1478.6 1315.4h7.3M1478.6 1383.7h7.3M1478.6 1451.9h7.3M1478.6 1520.1h7.3M1478.6 1588.4h7.3M1630.3 1656.6v-7.3M1782 1656.6v-7.3M1933.7 1656.6v-7.3M2085.4 1656.6v-7.3M2237.1 1656.6v-7.3M2388.8 1656.6v-7.3" stroke="#000" stroke-width="8.4" fill="none" stroke-linecap="round" stroke-linejoin="round"/>
<g><text x="1367" y="1003.9">13</text><text x="1369.2" y="1137.8">11</text><text x="1408" y="1273.5">9</text><text x="1408.2" y="1410">7</text><text x="1406.8" y="1545.6">5</text><text x="1404.2" y="1670.5">3</text><text x="1452" y="1724.6">-55</text><text x="1590.9" y="1724.6">-53</text><text x="1767.2" y="1724.6">51</text><text x="1895.7" y="1724.6">-49</text><text x="2044.7" y="1724.6">-47</text><text x="2198.6" y="1724.6">-45</text><text x="2339.4" y="1724.6">-43</text><text transform="translate(1382 1347.1) rotate(-90)" text-anchor="middle"><tspan font-style="italic">Z</tspan>/mm</text><text x="1910.9" y="1798" text-anchor="middle"><tspan font-style="italic">X</tspan>/mm</text><text x="1913.7" y="1882" text-anchor="middle">(d)</text></g>
</g>
</svg>
</body>
</html>
